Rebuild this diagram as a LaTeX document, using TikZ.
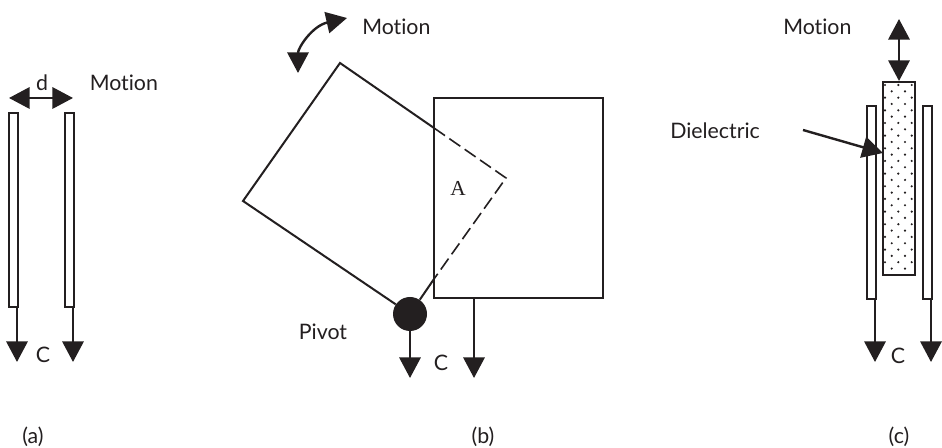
\documentclass[tikz,border=0pt]{standalone}
\usepackage{fontspec}
\setmainfont[Ligatures=NoCommon]{Lato}
\newfontfamily\serifA{Liberation Serif}
\usetikzlibrary{arrows.meta}
\definecolor{ink}{HTML}{231F20}
\tikzset{x=0.75pt,y=-0.75pt,
  wire/.style={draw=ink,line width=1.5pt},
  plate/.style={draw=ink,line width=1.5pt,fill=white},
  heavy/.style={draw=ink,line width=1.8pt},
  tip/.style={-{Triangle[length=15.5pt,width=16pt,color=ink]}},
  tips/.style={{Triangle[length=15.5pt,width=16pt,color=ink]}-{Triangle[length=15.5pt,width=16pt,color=ink]}},
  lbl/.style={text=ink,font=\fontsize{16}{18}\selectfont,inner sep=0pt},
  dash wire/.style={draw=ink,line width=1.2pt,dash pattern=on 10pt off 4pt}}
\begin{document}
\begin{tikzpicture}
\useasboundingbox (0,0) rectangle (942,448);
\fill[white] (0,0) rectangle (942,448);
% (a)
\draw[plate] (8.5,113) rectangle (17.5,307);
\draw[plate] (65,113) rectangle (74,307);
\coordinate (a1) at (17,307); \coordinate (a1e) at (17,362);
\coordinate (a2) at (73,307); \coordinate (a2e) at (73,362);
\draw[heavy,tip] (a1)--(a1e);
\draw[heavy,tip] (a2)--(a2e);
\coordinate (dl) at (9,98); \coordinate (dr) at (73,98);
\draw[heavy,tips] (dl)--(dr);
\node[lbl] (d) at (42,83) {d};
\node[lbl,anchor=west] (ma) at (89.5,83) {Motion};
\node[lbl] (ca) at (43,355) {C};
\node[lbl] (la) at (33,437) {(a)};
% (b)
\coordinate (top) at (340,63); \coordinate (left) at (243,201);
\coordinate (right) at (506,178); \coordinate (cross) at (434,128);
\coordinate (cross2) at (434,279);
\node[circle,fill=ink,minimum size=25.5pt,inner sep=0pt] (piv) at (410,314) {};
\draw[wire] (434,98) rectangle (603,298);
\draw[wire,line join=miter] (piv)--(left)--(top)--(cross);
\draw[dash wire] (cross)--(right)--(cross2);
\draw[wire] (cross2)--(piv);
\coordinate (b1e) at (410,378);
\coordinate (b2s) at (474,298); \coordinate (b2e) at (474,378);
\draw[heavy,tip] (piv)--(b1e);
\draw[heavy,tip] (b2s)--(b2e);
\coordinate (mA) at (298,73); \coordinate (mB) at (347,18);
\draw[heavy,tips] (mA) .. controls (298,48) and (312,26) .. (mB);
\node[lbl,anchor=west] (mb) at (362,27) {Motion};
\node[text=ink,font=\serifA\fontsize{16}{17}\selectfont,inner sep=0pt] (A) at (458,188) {A};
\node[lbl] (pv) at (323,332) {Pivot};
\node[lbl] (cb) at (441,363) {C};
\node[lbl] (lb) at (483,437) {(b)};
% (c)
\draw[plate] (867,106) rectangle (876,299);
\draw[plate] (923,106) rectangle (932,299);
\draw[plate] (883,82) rectangle (915,275);
\foreach \r in {0,...,29}{
  \pgfmathsetmacro{\yy}{85+\r*6.33}
  \ifodd\r
    \foreach \xx in {891.7,905}{\fill[ink] (\xx,\yy) circle (0.9pt);}
  \else
    \foreach \xx in {885,898.3,911.7}{\fill[ink] (\xx,\yy) circle (0.9pt);}
  \fi
}
\coordinate (c1) at (875,299); \coordinate (c1e) at (875,362);
\coordinate (c2) at (931,299); \coordinate (c2e) at (931,362);
\draw[heavy,tip] (c1)--(c1e);
\draw[heavy,tip] (c2)--(c2e);
\coordinate (mt) at (899,19); \coordinate (mbo) at (899,81);
\draw[heavy,tips] (mt)--(mbo);
\coordinate (ds) at (803,130); \coordinate (de) at (883,153);
\draw[heavy,tip] (ds)--(de);
\node[lbl,anchor=west] (mc) at (783,27) {Motion};
\node[lbl,anchor=west] (di) at (670,131) {Dielectric};
\node[lbl] (cc) at (898,356) {C};
\node[lbl] (lc) at (899,437) {(c)};
\end{tikzpicture}
\end{document}
